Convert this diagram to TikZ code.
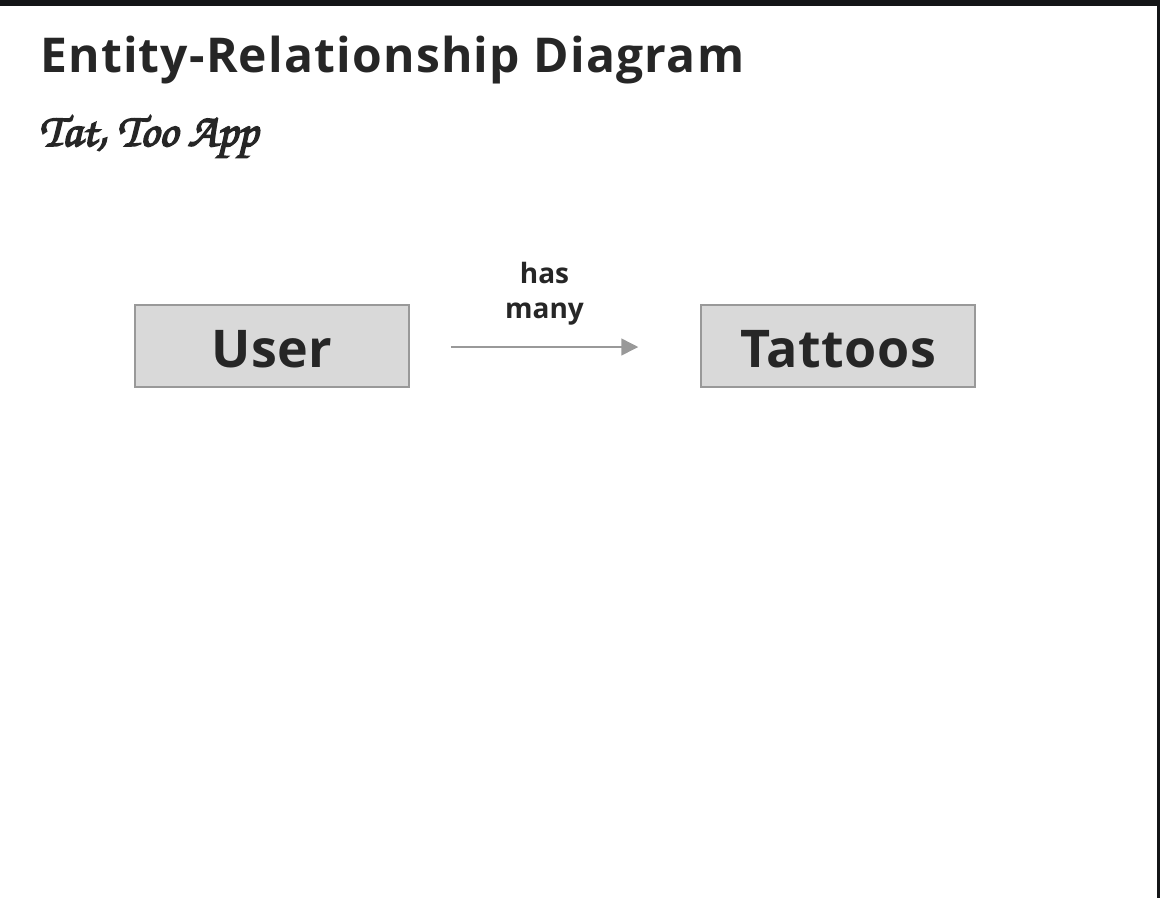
\documentclass[tikz,border=0pt]{standalone}
\usepackage{fontspec}
\setmainfont{Open Sans}
\usetikzlibrary{arrows.meta}
\definecolor{txt}{HTML}{262626}
\definecolor{boxfill}{HTML}{D9D9D9}
\definecolor{boxline}{HTML}{999999}
\definecolor{frame}{HTML}{141517}
\newcommand{\scriptfnt}{\fontencoding{T1}\fontfamily{pzc}\fontseries{mb}\fontshape{it}\selectfont}
\newcommand{\heavytext}[1]{\special{pdf:literal direct 2 Tr 1.6 w}#1\special{pdf:literal direct 0 Tr}}
\begin{document}
\begin{tikzpicture}[x=1pt,y=-1pt,
  entity/.style={draw=boxline, fill=boxfill, line width=1.5pt,
    minimum width=274pt, minimum height=82pt, inner sep=0pt,
    text height=43pt, text depth=0pt,
    font=\fontsize{52}{60}\selectfont\bfseries\addfontfeatures{LetterSpace=1}, text=txt},
  rel/.style={draw=boxline, line width=1.5pt, -{Triangle[length=17pt,width=17pt]}},
  rellabel/.style={font=\fontsize{28}{35}\selectfont\bfseries, text=txt, align=center, inner sep=0pt}]
\useasboundingbox (0,0) rectangle (1160,898);
\fill[frame] (0,0) rectangle (1160,6);
\fill[frame] (1157,0) rectangle (1160,898);
\node[anchor=base west, inner sep=0pt, text=txt, font=\fontsize{48}{56}\selectfont\bfseries\addfontfeatures{LetterSpace=2.5}] (title) at (40,72) {Entity-Relationship Diagram};
\node[anchor=base west, inner sep=0pt, text=txt, font=\fontsize{47}{56}\scriptfnt] (subtitle) at (39,146) {\heavytext{Tat, Too App}};
\node[entity] (user) at (272,346) {User};
\node[entity] (tattoos) at (838,346) {Tattoos};
\draw[rel, shorten <=41pt, shorten >=62pt] ([yshift=-1pt]user.east) -- ([yshift=-1pt]tattoos.west);
\node[rellabel, anchor=south] (label) at (544.5,325) {has\\many};
\end{tikzpicture}
\end{document}
